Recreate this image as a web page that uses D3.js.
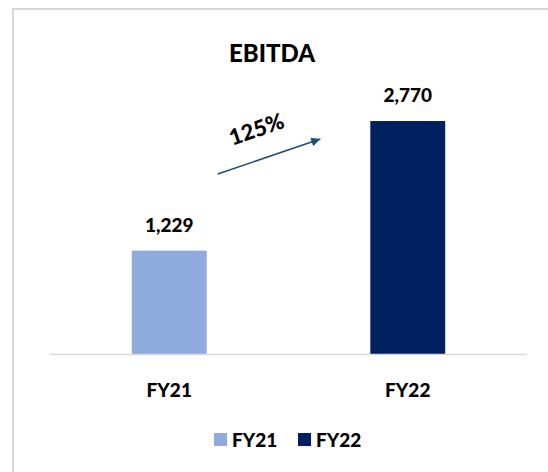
<!DOCTYPE html>
<html>
<head>
<meta charset="utf-8">
<script src="https://cdn.jsdelivr.net/npm/d3@7"></script>
<style>
  body { margin: 0; background: #fff; }
  text { font-family: Lato, "Open Sans", sans-serif; font-weight: 900; fill: #000; }
</style>
</head>
<body>
<div id="chart"></div>
<script>
// chart data
var years = ["FY21", "FY22"];
var ebitda = [1229, 2770];
var colors = ["#8faadc", "#002060"];

// svg size
var svgWidth = 548;
var svgHeight = 472;

var svg = d3.select("#chart")
  .append("svg")
  .attr("width", svgWidth)
  .attr("height", svgHeight);

// light grey frame
svg.append("rect")
  .attr("x", 13)
  .attr("y", 9)
  .attr("width", 545)
  .attr("height", 470)
  .attr("fill", "#fff")
  .attr("stroke", "#d9d9d9")
  .attr("stroke-width", 2);

// scales
var xScale = d3.scaleBand()
  .domain(years)
  .range([50, 527])
  .paddingInner(0.686)
  .paddingOuter(0.343);

var yScale = d3.scaleLinear()
  .domain([0, 3000])
  .range([354, 101.7]);

// title
svg.append("text")
  .attr("x", 272)
  .attr("y", 62)
  .attr("text-anchor", "middle")
  .attr("font-size", "24px")
  .text("EBITDA");

// bars
svg.selectAll(".bar")
  .data(years)
  .enter()
  .append("rect")
  .attr("class", "bar")
  .attr("x", d => xScale(d))
  .attr("y", (d, i) => yScale(ebitda[i]))
  .attr("width", xScale.bandwidth())
  .attr("height", (d, i) => yScale(0) - yScale(ebitda[i]))
  .attr("fill", (d, i) => colors[i]);

// value labels
svg.selectAll(".val")
  .data(years)
  .enter()
  .append("text")
  .attr("class", "val")
  .attr("x", d => xScale(d) + xScale.bandwidth() / 2)
  .attr("y", (d, i) => yScale(ebitda[i]) - 19)
  .attr("text-anchor", "middle")
  .attr("font-size", "19px")
  .text((d, i) => d3.format(",")(ebitda[i]));

// baseline
svg.append("line")
  .attr("x1", 50)
  .attr("x2", 527)
  .attr("y1", yScale(0) + 0.5)
  .attr("y2", yScale(0) + 0.5)
  .attr("stroke", "#d9d9d9")
  .attr("stroke-width", 1.5);

// category labels
var xAxis = d3.axisBottom(xScale).tickSize(0).tickPadding(0);
var axisG = svg.append("g")
  .attr("transform", `translate(0, ${yScale(0)})`)
  .call(xAxis);
axisG.select(".domain").remove();
axisG.selectAll("text")
  .attr("font-size", "19px")
  .attr("dy", 0)
  .attr("y", 43)
  .style("font-family", "Lato, 'Open Sans', sans-serif")
  .style("font-weight", "900")
  .attr("fill", "#000");

// growth arrow
svg.append("defs").append("marker")
  .attr("id", "head")
  .attr("viewBox", "0 0 10 10")
  .attr("refX", 10)
  .attr("refY", 5)
  .attr("markerWidth", 10)
  .attr("markerHeight", 9)
  .attr("markerUnits", "userSpaceOnUse")
  .attr("orient", "auto")
  .append("path")
  .attr("d", "M0,0 L10,5 L0,10 Z")
  .attr("fill", "#1f4e79");

var x1 = xScale("FY21") + xScale.bandwidth() + 11;
var x2 = xScale("FY22") - 50;
var y1 = yScale(2140);
var y2 = yScale(2556);

svg.append("line")
  .attr("x1", x1)
  .attr("y1", y1)
  .attr("x2", x2)
  .attr("y2", y2)
  .attr("stroke", "#1f4e79")
  .attr("stroke-width", 1.5)
  .attr("marker-end", "url(#head)");

var growth = Math.round((ebitda[1] / ebitda[0] - 1) * 100);
var angle = Math.atan2(y2 - y1, x2 - x1) * 180 / Math.PI;
svg.append("text")
  .attr("transform", `translate(${(x1 + x2) / 2 - 10}, ${(y1 + y2) / 2 - 20}) rotate(${angle})`)
  .attr("text-anchor", "middle")
  .attr("font-size", "22px")
  .text(growth + "%");

// legend
var legend = svg.append("g");
var legendX = [214, 298];
years.forEach(function(d, i) {
  legend.append("rect")
    .attr("x", legendX[i])
    .attr("y", 433)
    .attr("width", 13)
    .attr("height", 13)
    .attr("fill", colors[i]);
  legend.append("text")
    .attr("x", legendX[i] + 18)
    .attr("y", 447)
    .attr("font-size", "19px")
    .text(d);
});
</script>
</body>
</html>
